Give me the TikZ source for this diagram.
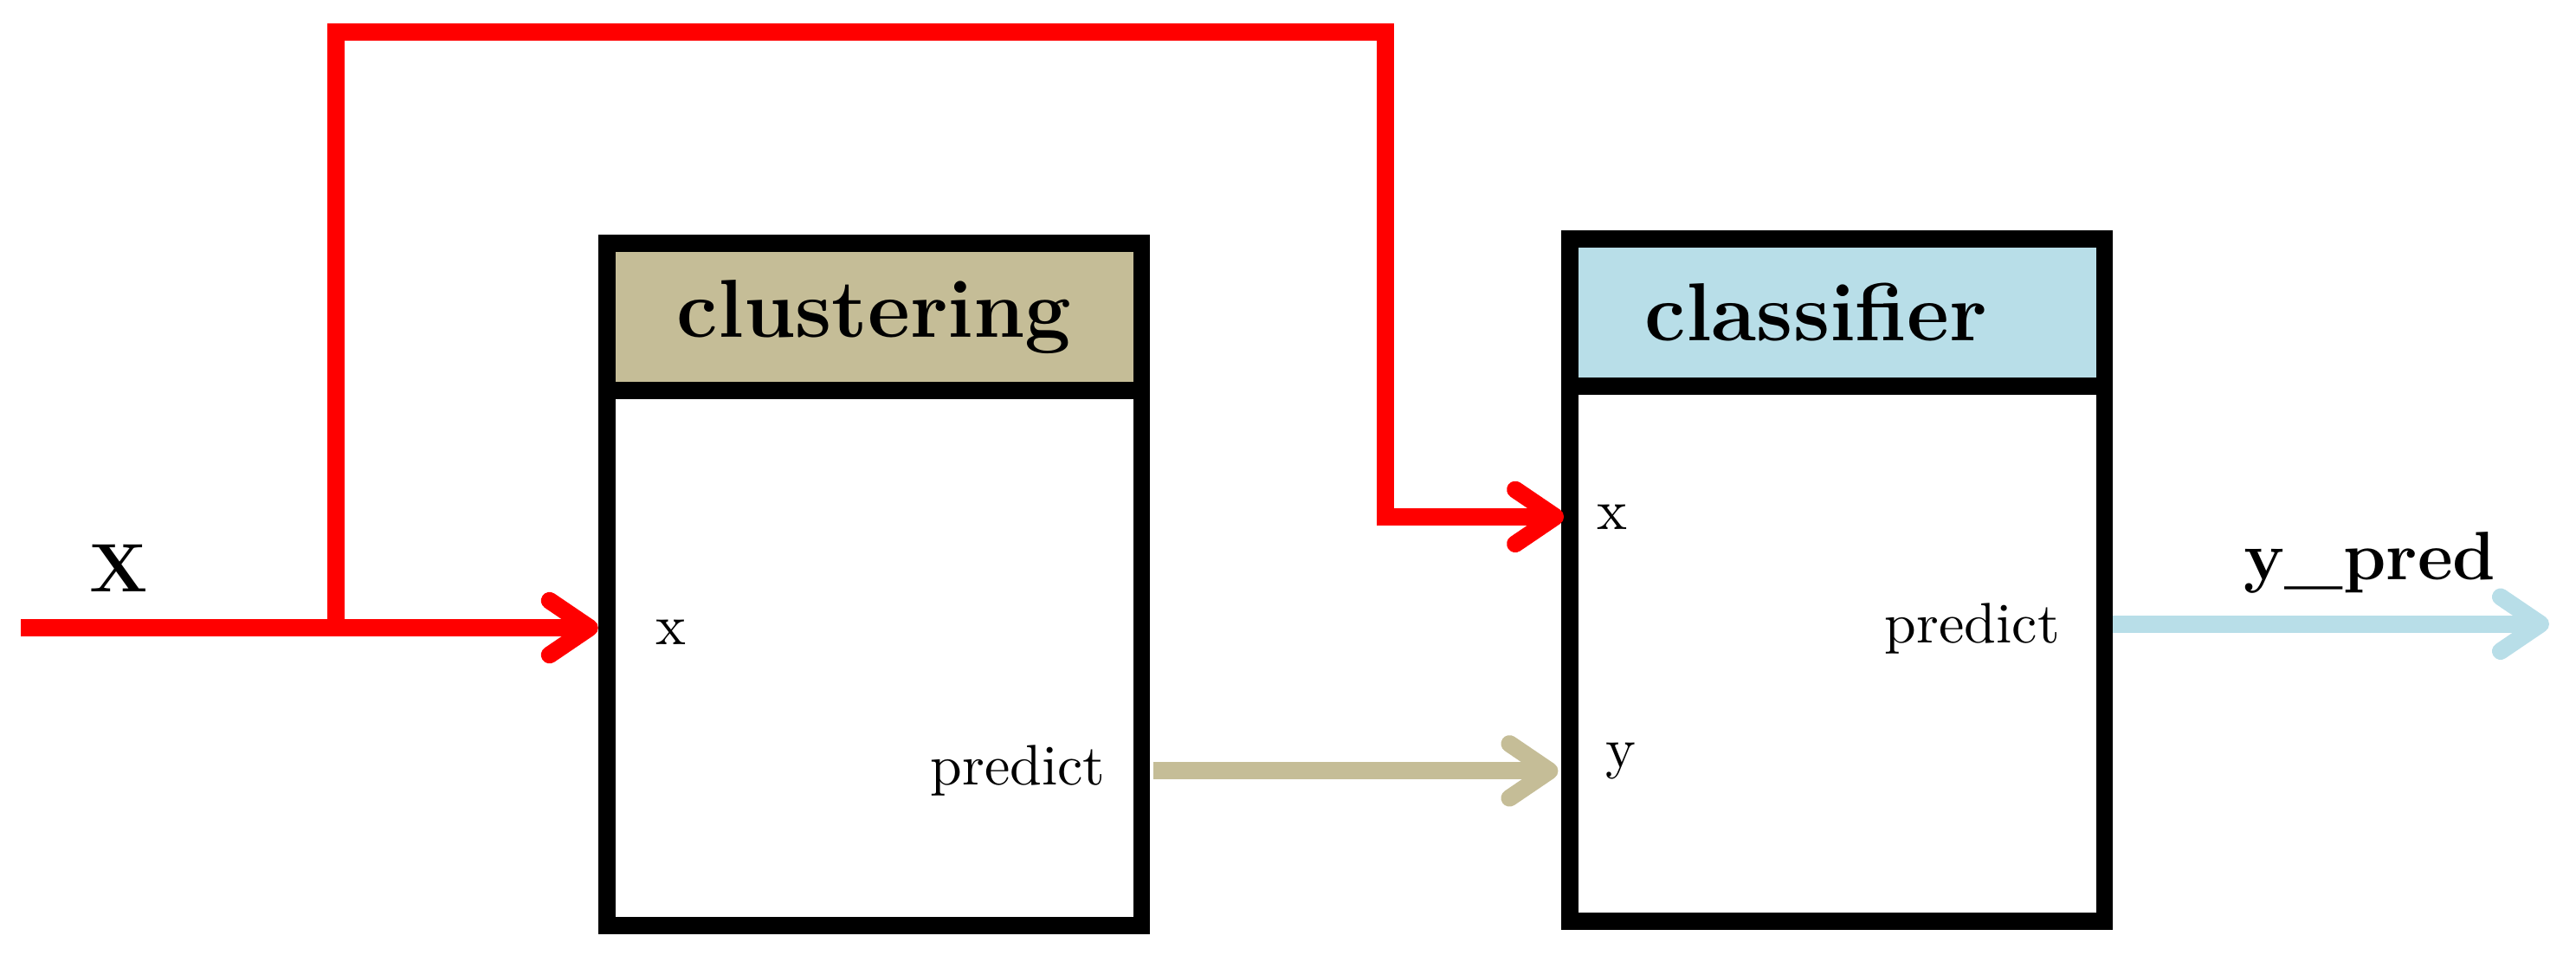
\documentclass[tikz,border=0pt]{standalone}
\usetikzlibrary{positioning,arrows.meta}
\definecolor{clustertan}{RGB}{197,189,151}
\definecolor{classblue}{RGB}{184,222,232}
\tikzset{
  blockhead/.style={draw, line width=3pt, outer sep=0pt, inner sep=0pt, minimum width=3.29cm, minimum height=0.906cm, font=\Large\bfseries},
  blockbody/.style={draw, line width=3pt, outer sep=0pt, minimum width=3.29cm, minimum height=3.29cm},
  flow/.style={line width=3pt, -{Straight Barb[round,length=7pt,width=9.5pt]}},
}
\begin{document}
\begin{tikzpicture}
\useasboundingbox (0,0) rectangle (15.841,5.948);
\node[blockhead, fill=clustertan] (cluhead) at (5.376,3.999) {clustering}; % Clustering block
\node[blockbody, below=0pt of cluhead] (clubody) {};
\node[blockhead, fill=classblue] (clahead) at (11.297,4.026) {classifier\kern0.26cm}; % Classifier block
\node[blockbody, below=0pt of clahead] (clabody) {};
\node[anchor=base] (clux) at (4.127,1.986) {x};
\node[anchor=base east] (clupred) at (6.922,1.119) {predict};
\node[anchor=base] (clax) at (9.915,2.694) {x};
\node[anchor=base west] (clay) at (9.750,1.226) {y};
\node[anchor=base east] (clapred) at (12.790,1.994) {predict};
\node[anchor=base, font=\large\bfseries] (xlab) at (0.731,2.306) {X};
\node[anchor=base, font=\large\bfseries] (ylab) at (14.574,2.383) {y\_pred};
\coordinate (xin) at (0.128,2.087);
\coordinate (xsplit) at (2.066,2.087);
\coordinate (xtop) at (8.520,5.751);
\coordinate (yout) at (15.676,2.11);
\draw[flow, red, shorten >=1.5pt] (xin) -- (clubody.west |- xin);
\draw[flow, red, shorten >=1pt] (xsplit) |- (xtop) |- (clabody.west |- clax);
\draw[flow, clustertan, shorten <=2pt, shorten >=2pt] (clubody.east |- clupred) -- (clabody.west |- clupred);
\draw[flow, classblue, shorten <=1.5pt] (clabody.east |- yout) -- (yout);
\end{tikzpicture}
\end{document}
